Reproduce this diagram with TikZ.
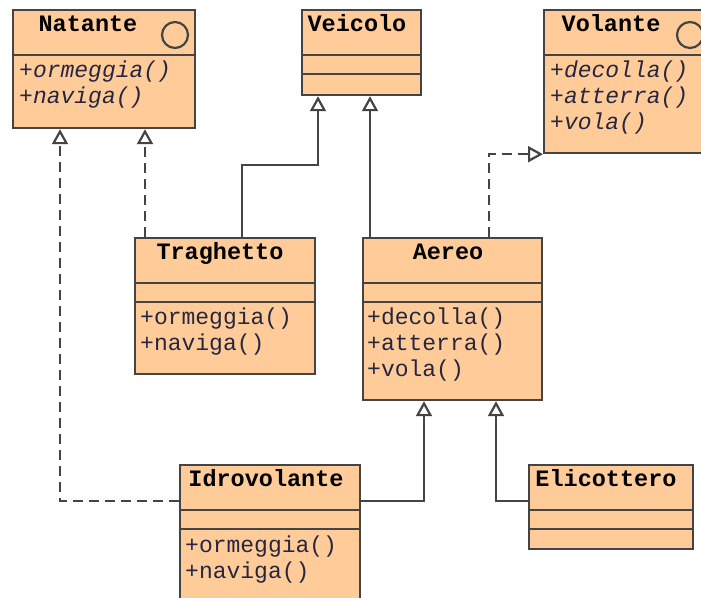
\documentclass[tikz,border=0pt]{standalone}
\usepackage{fontspec}
\setmonofont{Liberation Mono}
\usetikzlibrary{arrows.meta,calc}
\definecolor{classfill}{HTML}{FFCC99}
\definecolor{edgegray}{HTML}{444444}
\definecolor{optext}{HTML}{26263E}

\begin{document}
\begin{tikzpicture}[x=1pt,y=-1pt,
  classbox/.style={draw=edgegray, line width=2.2pt, fill=classfill, rectangle,
                   anchor=north west, inner sep=0pt},
  divider/.style={draw=edgegray, line width=2.2pt},
  classname/.style={font=\fontsize{23.5}{26}\selectfont\ttfamily\bfseries,
                    anchor=base, inner sep=0pt},
  op/.style={font=\fontsize{23}{26}\selectfont\ttfamily, text=optext,
             anchor=base west, inner sep=0pt},
  absop/.style={op, font=\fontsize{23}{26}\selectfont\ttfamily\itshape},
  gen/.style={draw=edgegray, line width=2.2pt,
              arrows={-Triangle[open, length=15pt, width=16pt, line width=2.2pt]}},
  realize/.style={gen, dash pattern=on 10pt off 6pt},
]
\useasboundingbox (0,0) rectangle (701,597);
\fill[white] (0,0) rectangle (701,597);
\clip (0,0) rectangle (701,597);

% class boxes
\node[classbox, minimum width=182pt, minimum height=118pt] (natante) at (12,9) {};
\node[classbox, minimum width=119pt, minimum height=85pt]  (veicolo) at (301,9) {};
\node[classbox, minimum width=170pt, minimum height=143pt] (volante) at (543,9) {};
\node[classbox, minimum width=180pt, minimum height=136pt] (traghetto) at (134,237) {};
\node[classbox, minimum width=179pt, minimum height=162pt] (aereo) at (362,237) {};
\node[classbox, minimum width=180pt, minimum height=150pt] (idro) at (179,464) {};
\node[classbox, minimum width=164pt, minimum height=84pt]  (elico) at (528,464) {};

% compartment dividers
\foreach \c in {natante, volante}
  \draw[divider] ($(\c.north west)+(0,46)$) -- ($(\c.north east)+(0,46)$);
\foreach \c in {veicolo, traghetto, aereo, idro, elico} {
  \draw[divider] ($(\c.north west)+(0,46)$) -- ($(\c.north east)+(0,46)$);
  \draw[divider] ($(\c.north west)+(0,65)$) -- ($(\c.north east)+(0,65)$);
}

% interface markers
\draw[edgegray, line width=2.2pt] ($(natante.north west)+(163,26)$) circle[radius=13];
\draw[edgegray, line width=2.2pt] ($(volante.north west)+(147,26)$) circle[radius=13];

% class names
\node[classname] (natante-name)   at (88,31)   {Natante};
\node[classname] (veicolo-name)   at (357,31)  {Veicolo};
\node[classname] (volante-name)   at (611,31)  {Volante};
\node[classname] (traghetto-name) at (220,259) {Traghetto};
\node[classname] (aereo-name)     at (448,259) {Aereo};
\node[classname] (idro-name)      at (266,486) {Idrovolante};
\node[classname] (elico-name)     at (606,486) {Elicottero};

% operations
\node[absop] (natante-op1) at (19,77)  {+ormeggia()};
\node[absop] (natante-op2) at (19,103) {+naviga()};
\node[absop] (volante-op1) at (550,77)  {+decolla()};
\node[absop] (volante-op2) at (550,103) {+atterra()};
\node[absop] (volante-op3) at (550,129) {+vola()};
\node[op] (traghetto-op1) at (140,324) {+ormeggia()};
\node[op] (traghetto-op2) at (140,350) {+naviga()};
\node[op] (aereo-op1) at (367,324) {+decolla()};
\node[op] (aereo-op2) at (367,350) {+atterra()};
\node[op] (aereo-op3) at (367,376) {+vola()};
\node[op] (idro-op1) at (185,552) {+ormeggia()};
\node[op] (idro-op2) at (185,578) {+naviga()};

% generalizations
\draw[gen] ($(traghetto.north west)+(108,0)$) |- ($(veicolo.south west)+(17,69)$)
           -- ($(veicolo.south west)+(17,0)$);
\draw[gen] ($(aereo.north west)+(8,0)$) -- ($(veicolo.south west)+(69,0)$);
\draw[gen] ($(idro.north east)+(0,37)$) -| ($(aereo.south west)+(62,0)$);
\draw[gen] ($(elico.north west)+(0,37)$) -| ($(aereo.south west)+(134,0)$);

% realizations
\draw[realize] ($(traghetto.north west)+(11,0)$) -- ($(natante.south west)+(133,0)$);
\draw[realize] ($(idro.north west)+(0,37)$) -| ($(natante.south west)+(48,0)$);
\draw[realize] ($(aereo.north west)+(127,0)$) |- (volante.south west);
\end{tikzpicture}
\end{document}
